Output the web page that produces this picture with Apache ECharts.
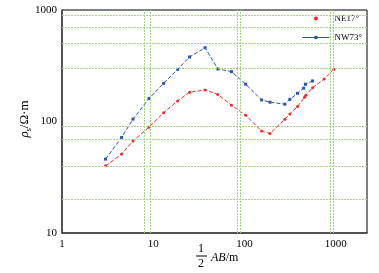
<!DOCTYPE html>
<html>
<head>
<meta charset="utf-8">
<script src="https://cdn.jsdelivr.net/npm/echarts@6/dist/echarts.min.js"></script>
<style>
  html, body { margin: 0; padding: 0; background: #fff; }
  #chart { width: 379px; height: 273px; }
</style>
</head>
<body>
<div id="chart"></div>
<script>
// 数据 (1/2 AB, m)
var abNE = [3, 4.5, 6, 9, 13, 18.5, 25, 37, 51, 72, 103, 154, 190, 277, 314, 381, 455, 470, 557, 746, 953];
var rhoNE = [40, 51, 67, 89, 120, 153, 183, 192, 175, 140, 114, 82, 78, 105, 117, 136, 165, 172, 201, 240, 294];
var abNW = [3, 4.5, 6, 9, 13, 18.5, 25, 37, 51, 72, 103, 154, 190, 277, 314, 381, 445, 465, 557];
var rhoNW = [46, 72, 105, 161, 220, 294, 379, 459, 296, 280, 216, 156, 149, 143, 158, 179, 199, 216, 231];
var xTicks = [1, 10, 100, 1000];
var yTicks = [10, 100, 1000];
var gridX = [8, 9.2, 83, 89, 860, 930];
var gridY = [20, 40, 70, 90, 300, 500, 700, 900];

var chart = echarts.init(document.getElementById('chart'));
var serif = 'Liberation Serif';
var green = '#a3d38a';

function pairs(xs, ys) {
  return xs.map(function (x, i) { return [x, ys[i]]; });
}

var option = {
  animation: false,
  backgroundColor: '#fff',
  grid: { left: 62, right: 12, top: 10, bottom: 40, show: true, borderColor: '#000', borderWidth: 1 },
  legend: {
    orient: 'vertical',
    right: 12,
    top: 9,
    itemWidth: 27,
    itemHeight: 4,
    itemGap: 10,
    textStyle: { fontFamily: serif, fontSize: 9, color: '#000' },
    data: [
      { name: 'NE17°', icon: 'circle' },
      { name: 'NW73°', lineStyle: { type: 'solid', width: 1 } }
    ]
  },
  xAxis: {
    type: 'log', logBase: 10, min: 1, max: 2200,
    axisLine: { lineStyle: { color: '#444', width: 1.5 } },
    axisTick: { show: false },
    splitLine: { show: false },
    minorSplitLine: { show: false },
    axisLabel: {
      fontFamily: serif, fontSize: 11, color: '#000', margin: 6,
      formatter: function (v) { return xTicks.indexOf(Math.round(v)) >= 0 ? String(Math.round(v)) : ''; }
    }
  },
  yAxis: {
    type: 'log', logBase: 10, min: 10, max: 1000,
    axisLine: { lineStyle: { color: '#444', width: 1.5 } },
    axisTick: { show: false },
    splitLine: { show: false },
    axisLabel: {
      fontFamily: serif, fontSize: 11, color: '#000', margin: 5,
      formatter: function (v) { return yTicks.indexOf(Math.round(v)) >= 0 ? String(Math.round(v)) : ''; }
    }
  },
  graphic: [
    {
      type: 'text', x: 25, y: 119, rotation: Math.PI / 2, silent: true,
      style: {
        text: '{i|ρ}{s|s}{n|/Ω·m}',
        align: 'center', verticalAlign: 'middle',
        rich: {
          i: { fontFamily: serif, fontStyle: 'italic', fontSize: 13, fill: '#000' },
          s: { fontFamily: serif, fontSize: 8, fill: '#000', verticalAlign: 'bottom', padding: [8, 0, 0, 0] },
          n: { fontFamily: serif, fontSize: 13, fill: '#000' }
        }
      }
    },
    { type: 'text', x: 201, y: 249, silent: true,
      style: { text: '1', fontFamily: serif, fontSize: 12, fill: '#000', align: 'center', verticalAlign: 'middle' } },
    { type: 'line', silent: true, shape: { x1: 196, y1: 256, x2: 207, y2: 256 }, style: { stroke: '#000', lineWidth: 1 } },
    { type: 'text', x: 201, y: 264, silent: true,
      style: { text: '2', fontFamily: serif, fontSize: 12, fill: '#000', align: 'center', verticalAlign: 'middle' } },
    { type: 'text', x: 211, y: 258, silent: true,
      style: {
        text: '{i|AB}{n|/m}', verticalAlign: 'middle',
        rich: {
          i: { fontFamily: serif, fontStyle: 'italic', fontSize: 12, fill: '#000' },
          n: { fontFamily: serif, fontSize: 12, fill: '#000' }
        }
      }
    }
  ],
  series: [
    {
      name: 'grid', type: 'line', data: [], silent: true,
      markLine: {
        silent: true, symbol: 'none', label: { show: false },
        lineStyle: { color: green, type: [2, 1], width: 1 },
        data: gridX.map(function (v) { return { xAxis: v }; })
          .concat(gridY.map(function (v) { return { yAxis: v }; }))
      }
    },
    {
      name: 'NE17°', type: 'line', data: pairs(abNE, rhoNE),
      symbol: 'circle', symbolSize: 3,
      itemStyle: { color: '#e62e2e' },
      lineStyle: { color: '#e62e2e', width: 1, type: [4, 2] },
      z: 3
    },
    {
      name: 'NW73°', type: 'line', data: pairs(abNW, rhoNW),
      symbol: 'rect', symbolSize: 3,
      itemStyle: { color: '#2f56a6' },
      lineStyle: { color: '#2f56a6', width: 1, type: [4, 2] },
      z: 4
    }
  ]
};

chart.setOption(option);
</script>
</body>
</html>
